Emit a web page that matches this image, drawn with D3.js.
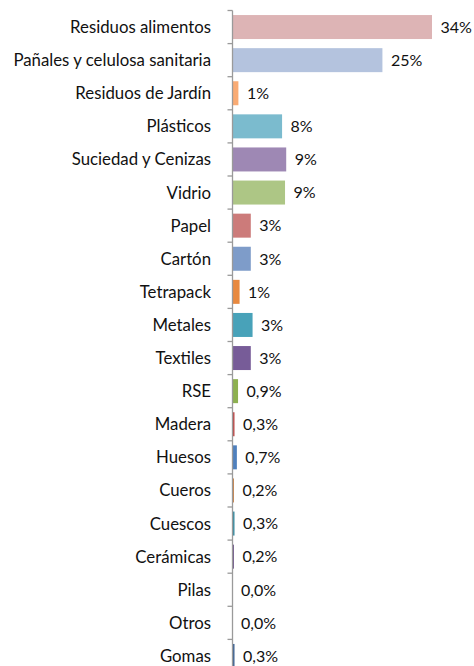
<!DOCTYPE html>
<html>
<head>
<meta charset="utf-8">
<script src="https://cdn.jsdelivr.net/npm/d3@7"></script>
<style>
  html, body { margin: 0; padding: 0; background: #fff; }
  svg { display: block; }
  text { font-family: Lato, "Open Sans", sans-serif; fill: #111; }
</style>
</head>
<body>
<svg id="chart" width="474" height="666"></svg>
<script>
const categories = [
  "Residuos alimentos", "Pañales y celulosa sanitaria", "Residuos de Jardín",
  "Plásticos", "Suciedad y Cenizas", "Vidrio", "Papel", "Cartón", "Tetrapack",
  "Metales", "Textiles", "RSE", "Madera", "Huesos", "Cueros", "Cuescos",
  "Cerámicas", "Pilas", "Otros", "Gomas"
];
const values = [
  33.8, 25.4, 1.0, 8.4, 9.1, 8.9, 3.1, 3.1, 1.2, 3.4, 3.1, 0.94, 0.34, 0.74, 0.24,
  0.34, 0.24, 0.0, 0.0, 0.34
];
const colors = [
  "#DDB4B5", "#B4C3DE", "#F9AB74", "#7BBBCE", "#9E88B4", "#ADC685", "#CC7B7A",
  "#7E9CC9", "#E8893F", "#48A2B9", "#775C98", "#8DB050", "#BE4B49", "#4F80BD",
  "#C77D3F", "#3A8EA3", "#6C5289", "#999999", "#999999", "#3E6394"
];

const svg = d3.select("#chart");
const axisX = 232.5;
const plotTop = 10.5, band = 33.1;

const x = d3.scaleLinear().domain([0, 33.8]).range([axisX, 432]);
const y = d3.scaleBand()
  .domain(categories)
  .range([plotTop, plotTop + band * categories.length])
  .paddingInner(0.275)
  .paddingOuter(0.1375);

const fmt = v => v >= 1 ? Math.round(v) + "%" : v.toFixed(1).replace(".", ",") + "%";

const data = categories.map((c, i) => ({ c, v: values[i], col: colors[i] }));

// bars
svg.append("g").selectAll("rect").data(data).join("rect")
  .attr("x", axisX)
  .attr("y", d => y(d.c))
  .attr("width", d => Math.max(0, x(d.v) - axisX))
  .attr("height", y.bandwidth())
  .attr("fill", d => d.col);

// axis with ticks between categories
const axisG = svg.append("g");
axisG.append("line")
  .attr("x1", axisX).attr("x2", axisX)
  .attr("y1", plotTop).attr("y2", 680)
  .attr("stroke", "#9a9a9a").attr("stroke-width", 1.3);
const tickYs = d3.range(categories.length + 1).map(i => plotTop + i * y.step());
axisG.selectAll("line.tick").data(tickYs).join("line")
  .attr("class", "tick")
  .attr("x1", axisX - 5).attr("x2", axisX)
  .attr("y1", d => d).attr("y2", d => d)
  .attr("stroke", "#9a9a9a").attr("stroke-width", 1.3);

// category labels
svg.append("g").selectAll("text").data(data).join("text")
  .attr("x", 211)
  .attr("y", d => y(d.c) + y.bandwidth() / 2)
  .attr("dy", "0.36em")
  .attr("text-anchor", "end")
  .style("font-size", "16.8px")
  .text(d => d.c);

// value labels
svg.append("g").selectAll("text").data(data).join("text")
  .attr("x", d => x(d.v) + 8.5)
  .attr("y", d => y(d.c) + y.bandwidth() / 2)
  .attr("dy", "0.36em")
  .style("font-size", "16px")
  .text(d => fmt(d.v));
</script>
</body>
</html>
